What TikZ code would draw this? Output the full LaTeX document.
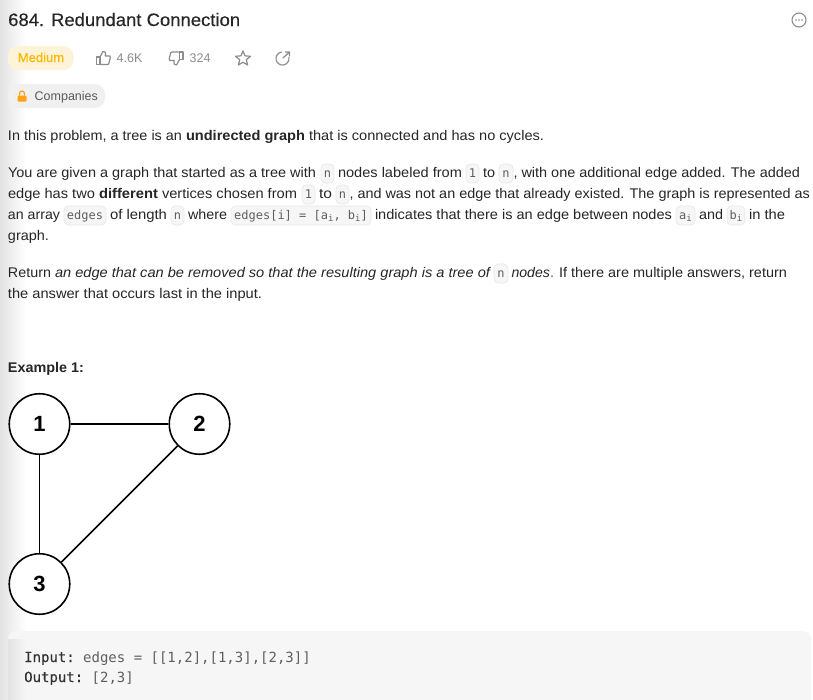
\documentclass[tikz,border=0pt]{standalone}
\usepackage{fontspec}
\setmainfont{Liberation Sans}
\setmonofont{DejaVu Sans Mono}
\newfontfamily\medfont[FakeBold=0.25]{Liberation Sans}
\definecolor{ink}{HTML}{262626}
\definecolor{codeink}{HTML}{5F5F5F}
\definecolor{chipfill}{HTML}{F6F6F6}
\definecolor{chipline}{HTML}{E8E8E8}
\definecolor{icongray}{HTML}{8C8C8C}
\definecolor{amber}{HTML}{FFB800}
\definecolor{pillamber}{HTML}{FDF3D8}
\definecolor{lockorange}{HTML}{FFA116}
\tikzset{
  x=1pt,y=-1pt,
  seg/.style={anchor=base west,inner sep=0pt,outer sep=0pt,text=ink,font=\fontsize{14}{16}\selectfont},
  chip/.style={draw=chipline,fill=chipfill,rounded corners=4.5pt,line width=.7pt},
  chiptext/.style={anchor=base,inner sep=0pt,text=codeink,font=\fontsize{12}{14}\ttfamily},
  vertex/.style={circle,draw=black,line width=1.6pt,fill=white,minimum size=60.5pt,inner sep=0pt,font=\fontsize{22}{24}\bfseries},
  edgeline/.style={draw=black,line width=1.6pt},
  icon/.style={draw=icongray,line width=1.2pt,line join=round,line cap=round},
  stat/.style={anchor=base west,inner sep=0pt,text=icongray,font=\fontsize{12.5}{14}\selectfont},
  codetext/.style={anchor=base west,inner sep=0pt,text=codeink,font=\fontsize{14}{16}\ttfamily},
  codekey/.style={codetext,text=black!80}
}
\newsavebox\fitbox
\newlength\fitwd
% \fitto{width}{text}: text stretched horizontally to the given width in pt
\newcommand\fitto[2]{%
  \sbox\fitbox{#2}%
  \setlength\fitwd{\wd\fitbox}%
  \pgfmathsetmacro\fitratio{#1/\fitwd}%
  \scalebox{\fitratio}[1]{\usebox\fitbox}}
% \seg{name}{x0}{x1}{baseline}{text}: text fitted to the span x0..x1
\newcommand\seg[5]{%
  \node[seg] (#1) at (#2,#4) {\fitto{(#3-#2)}{#5}};}
% \chipbox{name}{x0}{x1}{baseline}{text}
\newcommand\chipbox[5]{%
  \path[chip] (#2,#4-13) rectangle (#3,#4+6);
  \node[chiptext] (#1) at ({(#2+#3)/2},#4) {#5};}
\newcommand\sbi{\raisebox{-2pt}{\fontsize{9}{9}\selectfont i}}
\begin{document}
\begin{tikzpicture}
\useasboundingbox (0,0) rectangle (813,699);
\fill[white] (0,0) rectangle (813,699);
\shade[left color=black!11,right color=white] (0,0) rectangle (26,699);
\begin{scope}
\clip (0,0) rectangle (813,699);
\fill[black!3.5,rounded corners=8pt] (8,631) rectangle (811,720);
\shade[left color=black!11,right color=black!3.5] (8,639) rectangle (26,699);
\end{scope}

% title and more icon
\node[anchor=base west,inner sep=0pt,text=ink,font=\fontsize{18}{20}\medfont] (title) at (8,26) {\fitto{232}{684. Redundant Connection}};
\draw[draw=icongray,line width=1.1pt] (799,20) circle (7);
\fill[icongray] (796,20) circle (.9) (799,20) circle (.9) (802,20) circle (.9);

% difficulty pill
\fill[pillamber,rounded corners=10pt] (8,46) rectangle (73.5,70);
\node[anchor=base,inner sep=0pt,text=amber,font=\fontsize{13}{15}\medfont] (medium) at (41,62) {Medium};

% thumb up
\draw[icon] (96.5,57) rectangle (100,64.5);
\draw[icon] (100,57) -- (103,51.5) .. controls (105,51) and (106,52.5) .. (105.3,56) -- (110,56) .. controls (110.8,56.5) and (110.5,57.5) .. (110.2,58) -- (108.7,64) .. controls (108.5,64.5) and (108,64.5) .. (107.5,64.5) -- (100,64.5);
\node[stat] (likes) at (116.5,62) {4.6K};
% thumb down
\draw[icon] (183,59.5) rectangle (179.5,52);
\draw[icon] (179.5,59.5) -- (176.5,65) .. controls (174.5,65.5) and (173.5,64) .. (174.2,60.5) -- (169.5,60.5) .. controls (168.7,60) and (169,59) .. (169.3,58.5) -- (170.8,52.5) .. controls (171,52) and (171.5,52) .. (172,52) -- (179.5,52);
\node[stat] (dislikes) at (189.5,62) {324};
% star
\draw[icon] (243,51)--(245,55.8)--(250.5,56.3)--(246.3,59.7)--(247.6,65)--(243,62.2)--(238.4,65)--(239.7,59.7)--(235.5,56.3)--(241,55.8)--cycle;
% share
\draw[icon] (288.9,57.4) arc[start angle=-10,end angle=260,radius=6.5];
\draw[icon] (283,58) -- (289.5,52) (285.5,52) -- (289.5,52) -- (289.5,56);

% companies pill
\fill[black!6,rounded corners=10pt] (8,84) rectangle (105,108);
\fill[lockorange,rounded corners=1pt] (17.5,95.5) rectangle (26.5,101.5);
\draw[lockorange,line width=1.2pt] (19.5,95.5) -- (19.5,93.5) arc[start angle=180,end angle=360,radius=2.5] -- (24.5,95.5);
\node[anchor=base west,inner sep=0pt,text=black!65,font=\fontsize{12.5}{14}\selectfont] (companies) at (34.5,100) {Companies};

% paragraph 1
\seg{pa}{8}{182}{140}{In this problem, a tree is an}
\seg{pb}{186}{305}{140}{\bfseries undirected graph}
\seg{pc}{309}{544}{140}{that is connected and has no cycles.}

% paragraph 2
\seg{qa}{8}{316}{177}{You are given a graph that started as a tree with}
\chipbox{qb}{321}{334}{177}{n}
\seg{qc}{338}{462}{177}{nodes labeled from}
\chipbox{qd}{466}{479}{177}{1}
\seg{qe}{483}{495}{177}{to}
\chipbox{qf}{499}{513}{177}{n}
\seg{qg}{513.5}{800}{177}{, with one additional edge added. The added}

\seg{ra}{8}{95}{198}{edge has two}
\seg{rb}{99}{158}{198}{\bfseries different}
\seg{rc}{162}{297}{198}{vertices chosen from}
\chipbox{rd}{302}{315}{198}{1}
\seg{re}{319}{332}{198}{to}
\chipbox{rf}{336}{349}{198}{n}
\seg{rg}{349.5}{810}{198}{, and was not an edge that already existed. The graph is represented as}

\seg{sa}{8}{60}{219}{an array}
\chipbox{sb}{64}{106}{219}{edges}
\seg{sc}{110}{167}{219}{of length}
\chipbox{sd}{171}{184}{219}{n}
\seg{se}{188}{227}{219}{where}
\chipbox{sf}{231}{371}{219}{edges[i] = [a\sbi, b\sbi]}
\seg{sg}{375}{672}{219}{indicates that there is an edge between nodes}
\chipbox{sh}{676}{695}{219}{a\sbi}
\seg{si}{699}{723}{219}{and}
\chipbox{sj}{727}{745}{219}{b\sbi}
\seg{sk}{749}{785}{219}{in the}
\seg{ta}{8}{49}{240}{graph.}

% paragraph 3
\seg{ua}{8}{51}{277}{Return}
\seg{ub}{55}{490}{277}{\itshape an edge that can be removed so that the resulting graph is a tree of}
\chipbox{uc}{494}{508}{277}{n}
\seg{ud}{511.5}{550}{277}{\itshape nodes}
\seg{ue}{550.5}{553.5}{277}{.}
\seg{uf}{559}{787}{277}{If there are multiple answers, return}
\seg{va}{8}{262}{298}{the answer that occurs last in the input.}

\seg{ex}{8}{84}{372}{\bfseries Example 1:}

% graph
\node[vertex] (n1) at (39.5,424) {1};
\node[vertex] (n2) at (199.5,424) {2};
\node[vertex] (n3) at (39.5,584) {3};
\path[edgeline] (n1) -- (n2);
\path[edgeline] (n1) -- (n3);
\path[edgeline] (n2) -- (n3);

% code block
\node[codekey] (cin) at (24,662) {\addfontfeature{FakeBold=0.2}Input:};
\node[codetext] (cinv) at (83,662) {edges = [[1,2],[1,3],[2,3]]};
\node[codekey] (cout) at (24,682) {\addfontfeature{FakeBold=0.2}Output:};
\node[codetext] (coutv) at (91.5,682) {[2,3]};
\end{tikzpicture}
\end{document}
